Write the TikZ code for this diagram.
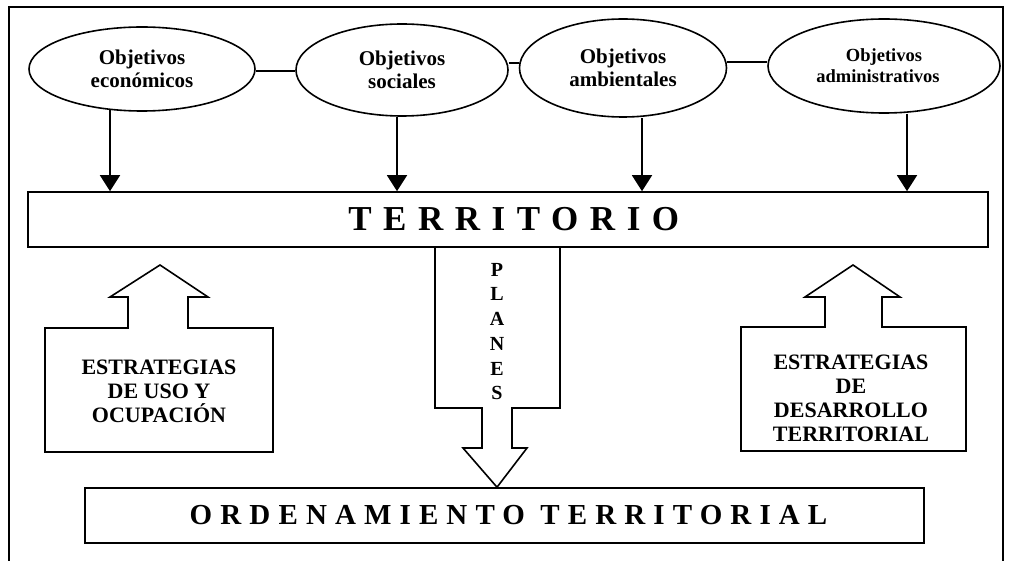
\documentclass[tikz,border=0pt]{standalone}
\usepackage{fontspec}
\setmainfont{Liberation Serif}
\usetikzlibrary{shapes.geometric, arrows.meta}

\begin{document}
\begin{tikzpicture}[x=1pt, y=-1pt, line width=1.6pt,
        obj/.style={ellipse, draw, fill=white, inner sep=0pt, align=center, font=\fontsize{21}{23.5}\selectfont\bfseries},
        caja/.style={draw, inner sep=0pt, minimum height=55pt},
        flecha/.style={-{Triangle[width=20pt, length=16pt]}},
        estr/.style={align=center, font=\fontsize{22}{24}\selectfont\bfseries}]
    \useasboundingbox (0,0) rectangle (1009,561);
    \draw (9,561) -- (9,7) -- (1003,7) -- (1003,561);
    % objetivos
    \node[obj, minimum width=226pt, minimum height=84pt] (eco) at (142,69) {Objetivos\\económicos};
    \node[obj, minimum width=212pt, minimum height=92pt] (soc) at (402,70) {Objetivos\\sociales};
    \node[obj, minimum width=207pt, minimum height=98pt] (amb) at (623,68) {Objetivos\\ambientales};
    \node[obj, minimum width=232pt, minimum height=94pt, font=\fontsize{18.5}{21}\selectfont\bfseries] (adm) at (884,66) {Objetivos\\administrativos\kern12pt};
    \draw ([yshift=-2pt]eco.east) -- ([yshift=-1pt]soc.west);
    \draw ([yshift=7pt]soc.east) -- ([yshift=5pt]amb.west);
    \draw ([yshift=6pt]amb.east) -- ([yshift=4pt]adm.west);
    % cajas
    \node[caja, minimum width=960pt, font=\fontsize{35}{35}\selectfont\bfseries\addfontfeature{LetterSpace=33}] (terr) at (508,219.5) {TERRITORIO\kern-0.33em};
    \node[caja, minimum width=839pt, font=\fontsize{29}{29}\selectfont\bfseries\addfontfeature{LetterSpace=28}] (orden) at (504.5,515.5) {ORDENAMIENTO TERRITORIAL\kern-0.28em};
    \draw[flecha] ([xshift=-32pt, yshift=2pt]eco.south) -- ([xshift=-32pt]eco.south |- terr.north);
    \draw[flecha] ([xshift=-5pt]soc.south) -- ([xshift=-5pt]soc.south |- terr.north);
    \draw[flecha] ([xshift=19pt]amb.south) -- ([xshift=19pt]amb.south |- terr.north);
    \draw[flecha] ([xshift=23pt]adm.south) -- ([xshift=23pt]adm.south |- terr.north);
    % planes
    \draw (435,0 |- terr.south) -- (435,408) -- (482,408) -- (482,448) -- (463,448) -- (497,0 |- orden.north)
        -- (527,448) -- (512,448) -- (512,408) -- (560,408) -- (560,0 |- terr.south);
    \node[align=center, font=\fontsize{20}{24.7}\selectfont\bfseries] (planes) at (497,331.5) {P\\L\\A\\N\\E\\S};
    % estrategias
    \draw (128,328) -- (45,328) -- (45,452) -- (273,452) -- (273,328) -- (188,328) -- (188,297)
        -- (208,297) -- (160,265) -- (110,297) -- (128,297) -- cycle;
    \node[estr] (uso) at (159,391) {ESTRATEGIAS\\DE USO Y\\OCUPACIÓN};
    \draw (825,327) -- (741,327) -- (741,451) -- (966,451) -- (966,327) -- (882,327) -- (882,297)
        -- (900,297) -- (853,265) -- (805,297) -- (825,297) -- cycle;
    \node[estr] (des) at (851,398) {ESTRATEGIAS\\DE\\DESARROLLO\\TERRITORIAL};
\end{tikzpicture}
\end{document}
